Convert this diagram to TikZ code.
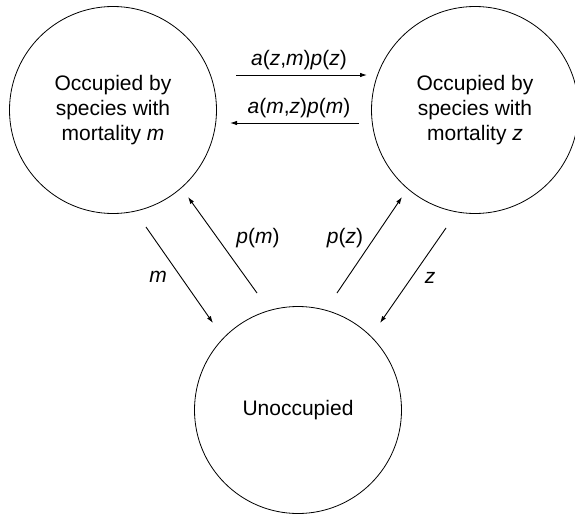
\documentclass[tikz,border=0pt]{standalone}
\usepackage{fontspec}
\setmainfont{Liberation Sans}
\usetikzlibrary{arrows.meta}

\begin{document}
\begin{tikzpicture}[x=1pt, y=-1pt, font=\fontsize{21}{25}\selectfont,
    state/.style={circle, draw, line width=0.8pt, minimum size=207pt, inner sep=0pt, align=center},
    flow/.style={-{Latex[length=7pt,width=4.5pt]}, line width=0.9pt}]
  \useasboundingbox (0,0) rectangle (575,514);
  % states
  \node[state] (occm) at (113,110) {Occupied by\\species with\\mortality \textit{m}};
  \node[state] (occz) at (475,110) {Occupied by\\species with\\mortality \textit{z}};
  \node[state] (unocc) at (298,410) {Unoccupied};
  % arrow ends
  \coordinate (zm0) at (236,75);  \coordinate (zm1) at (367,75);
  \coordinate (mz0) at (359,123); \coordinate (mz1) at (230,123);
  \coordinate (m0) at (146,227);  \coordinate (m1) at (213,323);
  \coordinate (pm0) at (257,293); \coordinate (pm1) at (188,197);
  \coordinate (pz0) at (337,293); \coordinate (pz1) at (402,197);
  \coordinate (z0) at (446,228);  \coordinate (z1) at (380,323);
  % transitions
  \draw[flow] (zm0) -- (zm1);
  \draw[flow] (mz0) -- (mz1);
  \draw[flow] (m0) -- (m1);
  \draw[flow] (pm0) -- (pm1);
  \draw[flow] (pz0) -- (pz1);
  \draw[flow] (z0) -- (z1);
  % labels
  \node (lzm) at (299,60) {\textit{a}(\textit{z},\textit{m})\textit{p}(\textit{z})};
  \node (lmz) at (299,108) {\textit{a}(\textit{m},\textit{z})\textit{p}(\textit{m})};
  \node (lm) at (158,277) {\textit{m}};
  \node (lpm) at (258,238) {\textit{p}(\textit{m})};
  \node (lpz) at (345,238) {\textit{p}(\textit{z})};
  \node (lz) at (430,278) {\textit{z}};
\end{tikzpicture}
\end{document}
